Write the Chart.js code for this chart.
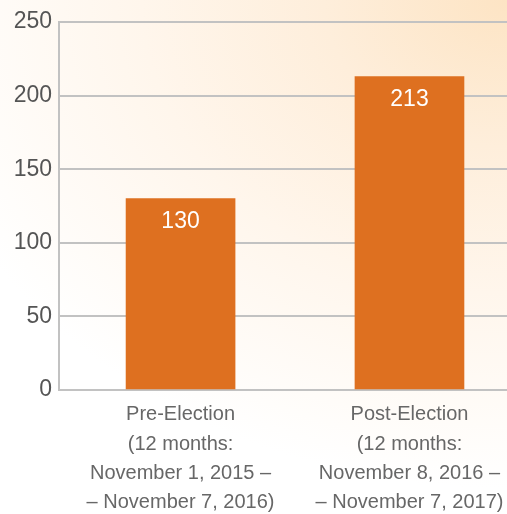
<!DOCTYPE html>
<html>
<head>
<meta charset="utf-8">
<script src="https://cdn.jsdelivr.net/npm/chart.js@4.4.1/dist/chart.umd.min.js"></script>
<style>
  html, body { margin: 0; padding: 0; overflow: hidden; }
  body {
    width: 507px; height: 514px;
    background:
      radial-gradient(ellipse 120% 95% at 100% 0%, #fde4c4 0%, #feeedb 30%, #fff6ec 60%, rgba(255,255,255,0) 100%),
      #ffffff;
  }
  canvas { display: block; }
</style>
</head>
<body>
<canvas id="grafico" width="507" height="514"></canvas>
<script>
// Dados
const categorias = [
  ["Pre-Election", "(12 months:", "November 1, 2015 –", "– November 7, 2016)"],
  ["Post-Election", "(12 months:", "November 8, 2016 –", "– November 7, 2017)"]
];
const valores = [130, 213];
const ticksY = [0, 50, 100, 150, 200, 250];

const COR_BARRA = "#de7020";
const COR_GRADE = "#c2c2c2";

// Rótulo branco dentro de cada barra
const rotulosBarras = {
  id: "rotulosBarras",
  afterDatasetsDraw(chart) {
    const ctx = chart.ctx;
    const meta = chart.getDatasetMeta(0);
    ctx.save();
    ctx.fillStyle = "#ffffff";
    ctx.font = "23px 'Liberation Sans', Arial, sans-serif";
    ctx.textAlign = "center";
    ctx.textBaseline = "middle";
    meta.data.forEach((barra, i) => {
      ctx.fillText(String(valores[i]), barra.x, barra.y + 23);
    });
    ctx.restore();
  }
};

const ctx = document.getElementById("grafico").getContext("2d");

new Chart(ctx, {
  type: "bar",
  data: {
    datasets: [{
      data: valores.map((v, i) => ({ x: i, y: v })),
      backgroundColor: COR_BARRA,
      borderWidth: 0,
      barThickness: 109
    }]
  },
  plugins: [rotulosBarras],
  options: {
    responsive: false,
    animation: false,
    layout: { padding: { top: 22, right: 0, left: 0, bottom: 0 } },
    plugins: {
      legend: { display: false },
      tooltip: { enabled: false }
    },
    scales: {
      x: {
        type: "linear",
        min: -0.531,
        max: 1.426,
        offset: false,
        afterBuildTicks: scale => {
          scale.ticks = categorias.map((_, i) => ({ value: i }));
        },
        afterFit: scale => {
          scale.height = 124;
          scale.paddingLeft = 0;
          scale.paddingRight = 0;
        },
        ticks: {
          autoSkip: false,
          maxRotation: 0,
          padding: 10,
          color: "#676767",
          font: { family: "'Liberation Sans', Arial, sans-serif", size: 20, lineHeight: 1.47 },
          callback: v => categorias[v] || ""
        },
        grid: { display: false, drawTicks: false },
        border: { display: true, color: COR_GRADE, width: 2 }
      },
      y: {
        min: 0,
        max: 250,
        afterBuildTicks: scale => {
          scale.ticks = ticksY.map(v => ({ value: v }));
        },
        afterFit: scale => { scale.width = 59; },
        ticks: {
          padding: 7,
          color: "#555555",
          font: { family: "'Liberation Sans', Arial, sans-serif", size: 23 }
        },
        grid: { color: COR_GRADE, lineWidth: 2, drawTicks: false },
        border: { display: true, color: COR_GRADE, width: 2 }
      }
    }
  }
});
</script>
</body>
</html>
